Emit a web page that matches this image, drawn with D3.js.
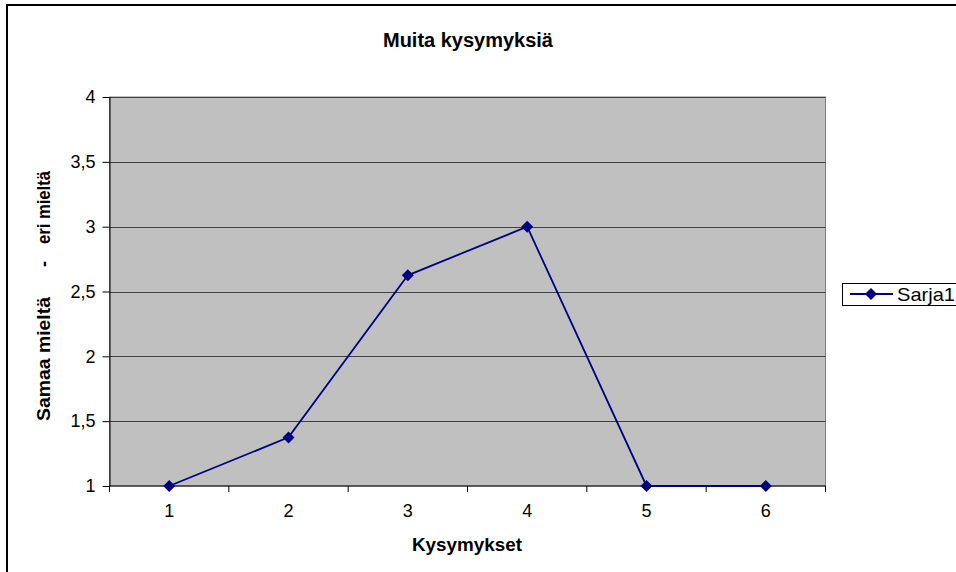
<!DOCTYPE html>
<html>
<head>
<meta charset="utf-8">
<script src="https://cdn.jsdelivr.net/npm/d3@7"></script>
<style>
  body { margin: 0; background: #fff; }
  svg { display: block; font-family: Arial, "Liberation Sans", sans-serif; }
</style>
</head>
<body>
<div id="chart"></div>
<script>
// data
var categories = ["1", "2", "3", "4", "5", "6"];
var values = [1, 1.375, 2.625, 3, 1, 1];
var yTicks = [1, 1.5, 2, 2.5, 3, 3.5, 4];
var seriesName = "Sarja1";

var W = 956, H = 572;
var margin = {top: 97, right: 131, bottom: 86, left: 109.5};
var width = 825.5 - margin.left,
    height = 486 - margin.top;

var svg = d3.select("#chart")
  .append("svg")
    .attr("width", W)
    .attr("height", H);

// outer frame
svg.append("rect")
  .attr("x", 7).attr("y", 5)
  .attr("width", W).attr("height", H)
  .attr("fill", "none")
  .attr("stroke", "#000")
  .attr("stroke-width", 2);

svg.append("text")
  .attr("x", 383).attr("y", 47)
  .attr("textLength", 170)
  .attr("lengthAdjust", "spacingAndGlyphs")
  .style("font-size", "20px")
  .style("font-weight", "bold")
  .text("Muita kysymyksiä");

var g = svg.append("g")
  .attr("transform", "translate(" + margin.left + "," + margin.top + ")");

var x = d3.scaleBand()
  .domain(categories)
  .range([0, width]);

var y = d3.scaleLinear()
  .domain([1, 4])
  .range([height, 0]);

// plot area
g.append("rect")
  .attr("width", width).attr("height", height)
  .attr("fill", "#c0c0c0")
  .attr("stroke", "#808080");

// gridlines
g.append("g")
  .selectAll("line")
  .data(yTicks.slice(1))
  .enter()
  .append("line")
    .attr("x1", 0).attr("x2", width)
    .attr("y1", function(d) { return Math.round(y(d)) + 0.5; })
    .attr("y2", function(d) { return Math.round(y(d)) + 0.5; })
    .attr("stroke", "#404040")
    .attr("stroke-width", 1.2);

// y axis
var yAxis = g.append("g")
  .call(d3.axisLeft(y).tickValues(yTicks).tickSize(7).tickPadding(7)
    .tickFormat(function(d) { return String(d).replace(".", ","); }));
yAxis.select(".domain").attr("stroke", "#000").attr("d", "M0.5," + height + "V0");
yAxis.selectAll("text").style("font-size", "18px").attr("fill", "#000");

// x axis: ticks at the category boundaries
var xAxis = g.append("g")
  .attr("transform", "translate(0," + height + ")");
xAxis.append("line")
  .attr("x1", 0).attr("x2", width)
  .attr("stroke", "#000");
xAxis.selectAll("line.tick")
  .data(d3.range(categories.length + 1))
  .enter()
  .append("line")
    .attr("class", "tick")
    .attr("x1", function(i) { return i * x.bandwidth(); })
    .attr("x2", function(i) { return i * x.bandwidth(); })
    .attr("y1", 0).attr("y2", 6)
    .attr("stroke", "#000");
xAxis.selectAll("text")
  .data(categories)
  .enter()
  .append("text")
    .attr("x", function(d) { return x(d) + x.bandwidth() / 2; })
    .attr("y", 31)
    .attr("text-anchor", "middle")
    .style("font-size", "18px")
    .text(function(d) { return d; });

// axis titles
svg.append("text")
  .attr("x", 412).attr("y", 551)
  .attr("textLength", 110)
  .attr("lengthAdjust", "spacingAndGlyphs")
  .style("font-size", "18px")
  .style("font-weight", "bold")
  .text("Kysymykset");

var yTitle = [
  {t: "Samaa mieltä", start: 421, len: 124},
  {t: "-", start: 267, len: 6},
  {t: "eri mieltä", start: 244, len: 73}
];
svg.selectAll("text.ytitle")
  .data(yTitle)
  .enter()
  .append("text")
    .attr("class", "ytitle")
    .attr("transform", function(d) { return "translate(50," + d.start + ") rotate(-90)"; })
    .attr("textLength", function(d) { return d.len; })
    .attr("lengthAdjust", "spacingAndGlyphs")
    .style("font-size", "18px")
    .style("font-weight", "bold")
    .text(function(d) { return d.t; });

// line
var line = d3.line()
  .x(function(d, i) { return x(categories[i]) + x.bandwidth() / 2; })
  .y(function(d) { return y(d); });

g.append("path")
  .datum(values)
  .attr("fill", "none")
  .attr("stroke", "#000080")
  .attr("stroke-width", 1.8)
  .attr("d", line);

var diamond = "M0,-6L6,0L0,6L-6,0Z";

g.selectAll("path.pt")
  .data(values)
  .enter()
  .append("path")
    .attr("class", "pt")
    .attr("d", diamond)
    .attr("transform", function(d, i) {
      return "translate(" + (x(categories[i]) + x.bandwidth() / 2) + "," + y(d) + ")";
    })
    .attr("fill", "#000080");

// legend
var leg = svg.append("g");
leg.append("rect")
  .attr("x", 842.5).attr("y", 283.5)
  .attr("width", 130).attr("height", 22)
  .attr("fill", "#fff")
  .attr("stroke", "#000");
leg.append("line")
  .attr("x1", 850).attr("x2", 893)
  .attr("y1", 294).attr("y2", 294)
  .attr("stroke", "#000080").attr("stroke-width", 1.8);
leg.append("path")
  .attr("d", diamond)
  .attr("transform", "translate(871,294)")
  .attr("fill", "#000080");
leg.append("text")
  .attr("x", 897).attr("y", 301)
  .attr("textLength", 58)
  .attr("lengthAdjust", "spacingAndGlyphs")
  .style("font-size", "19px")
  .text(seriesName);
</script>
</body>
</html>
